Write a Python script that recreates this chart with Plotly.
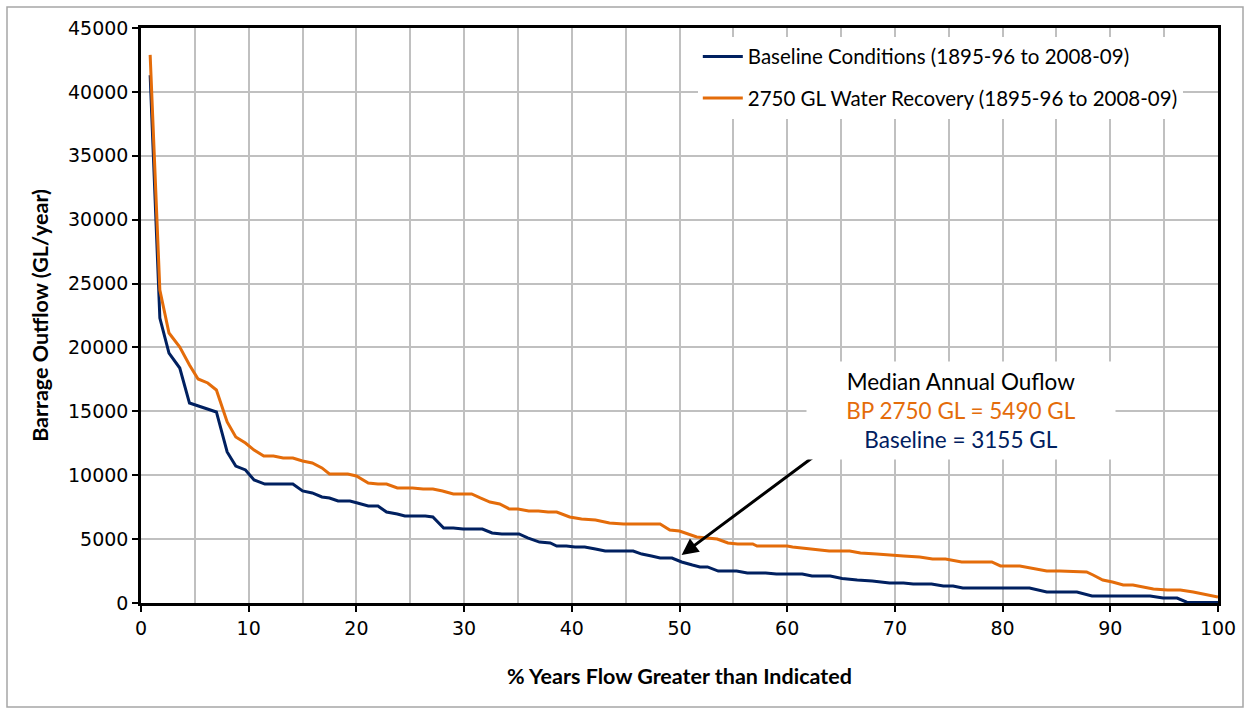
import plotly.graph_objects as go

# ---- data ----
base_x = [0.85, 1.75, 2.6, 3.6, 4.5, 7.0, 8.0, 8.8, 9.7, 10.5,
          11.5, 14.1, 15.0, 15.9, 16.8, 17.5, 18.3, 19.4, 20.1, 21.1,
          22.0, 22.8, 23.8, 24.5, 26.4, 27.1, 28.1, 29.0, 29.9, 31.7,
          32.6, 33.5, 35.1, 35.9, 37.0, 38.0, 38.6, 39.5, 40.3, 41.2,
          42.2, 43.1, 45.7, 46.5, 47.4, 48.2, 49.3, 50.2, 51.2, 51.9,
          52.6, 53.6, 55.3, 56.3, 58.0, 59.0, 61.4, 62.3, 64.0, 65.1,
          66.5, 67.9, 69.5, 70.8, 71.7, 73.4, 74.5, 75.4, 76.3, 82.5,
          84.1, 86.9, 88.3, 93.7, 94.9, 96.2, 97.1, 100]
base_y = [41300, 22300, 19560, 18390, 15650, 14950, 11820, 10720, 10410, 9630,
          9310, 9310, 8770, 8610, 8300, 8220, 7980, 7980, 7830, 7590,
          7590, 7120, 6970, 6810, 6810, 6730, 5870, 5870, 5790, 5790,
          5480, 5400, 5400, 5090, 4770, 4700, 4460, 4460, 4380, 4380,
          4230, 4070, 4070, 3830, 3680, 3520, 3520, 3210, 2970, 2820,
          2820, 2500, 2500, 2350, 2350, 2270, 2270, 2110, 2110, 1920,
          1800, 1720, 1570, 1570, 1490, 1490, 1330, 1330, 1170, 1170,
          860, 860, 550, 550, 390, 390, 60, 30]

rec_x = [0.85, 1.75, 2.6, 3.6, 4.5, 5.3, 6.2, 7.0, 8.0, 8.8,
         9.7, 10.5, 11.4, 12.3, 13.2, 14.1, 15.0, 15.9, 16.8, 17.5,
         19.2, 20.0, 21.1, 22.0, 22.8, 23.8, 25.2, 26.2, 27.1, 28.0,
         29.0, 30.7, 31.5, 32.4, 33.3, 34.2, 35.0, 36.0, 36.9, 37.8,
         38.6, 39.8, 40.9, 42.2, 43.5, 44.8, 48.2, 49.1, 50.0, 51.6,
         53.5, 54.5, 55.4, 56.8, 57.2, 60.0, 60.5, 62.3, 63.9, 65.8,
         66.8, 68.3, 70.2, 70.8, 72.3, 73.5, 74.7, 76.2, 79.0, 79.8,
         81.6, 82.5, 84.1, 85.3, 86.9, 87.8, 88.4, 89.3, 90.2, 91.2,
         92.1, 93.0, 94.0, 95.3, 96.5, 97.7, 98.6, 100]
rec_y = [42900, 24500, 21130, 20030, 18630, 17530, 17220, 16670, 14170, 12990,
         12520, 11970, 11500, 11500, 11350, 11350, 11110, 10960, 10570, 10100,
         10100, 9940, 9390, 9310, 9310, 9000, 9000, 8920, 8920, 8770,
         8530, 8530, 8220, 7900, 7750, 7360, 7360, 7200, 7200, 7120,
         7120, 6730, 6570, 6500, 6260, 6180, 6180, 5710, 5630, 5170,
         5010, 4700, 4620, 4620, 4460, 4460, 4380, 4230, 4070, 4070,
         3910, 3830, 3760, 3680, 3600, 3440, 3440, 3210, 3210, 2900,
         2900, 2740, 2500, 2500, 2430, 2430, 2190, 1800, 1640, 1410,
         1410, 1250, 1100, 1020, 1020, 860, 700, 470]

series_names = ["Baseline Conditions (1895-96 to 2008-09)",
                "2750 GL Water Recovery (1895-96 to 2008-09)"]
median_labels = ["Median Annual Ouflow", "BP 2750 GL = 5490 GL", "Baseline = 3155 GL"]
x_title = "% Years Flow Greater than Indicated"
y_title = "Barrage Outflow (GL/year)"

NAVY = "#002060"
ORANGE = "#E46C0A"
TXT = "Lato"
NUM = "DejaVu Sans"

fig = go.Figure()
fig.add_trace(go.Scatter(x=base_x, y=base_y, mode="lines", name=series_names[0],
                         line=dict(color=NAVY, width=3), legendgroup="a"))
fig.add_trace(go.Scatter(x=rec_x, y=rec_y, mode="lines", name=series_names[1],
                         line=dict(color=ORANGE, width=3), legendgroup="b"))

W, H = 1249, 709
L, R, T, B = 141, 31, 28, 106
pw, ph = W - L - R, H - T - B

def px2paper(px, py):
    return (px - L) / pw, (H - B - py) / ph

# outer border
x0, y0 = px2paper(7, 707)
x1, y1 = px2paper(1243, 7)
fig.add_shape(type="rect", xref="paper", yref="paper", x0=x0, y0=y0, x1=x1, y1=y1,
              line=dict(color="#a6a6a6", width=1.5), layer="below")

# arrow
fig.add_annotation(x=50.2, y=3760, ax=65.4, ay=13300, xref="x", yref="y",
                   axref="x", ayref="y", text="", showarrow=True,
                   arrowhead=2, arrowsize=1.1, arrowwidth=3, arrowcolor="black")

# median text box
text = (f"<span style='color:black'>{median_labels[0]}</span><br>"
        f"<span style='color:{ORANGE}'>{median_labels[1]}</span><br>"
        f"<span style='color:{NAVY}'>{median_labels[2]}</span>")
fig.add_annotation(x=76.1, y=15065, xref="x", yref="y", text=text, showarrow=False,
                   font=dict(family=TXT, size=22.5, color="black"), bgcolor="white",
                   width=306, height=95, align="center", xanchor="center", yanchor="middle")

fig.update_layout(
    width=W, height=H,
    margin=dict(l=L, r=R, t=T, b=B),
    paper_bgcolor="white", plot_bgcolor="white",
    showlegend=True,
    legend=dict(x=0.517, y=0.985, xanchor="left", yanchor="top",
                bgcolor="white", font=dict(family=TXT, size=20.5, color="black"),
                tracegroupgap=12, itemwidth=40),
    xaxis=dict(range=[0, 100], dtick=10, tick0=0, showgrid=True,
               gridcolor="#c0c0c0", gridwidth=1.5,
               minor=dict(dtick=5, showgrid=True, gridcolor="#c0c0c0", gridwidth=1.5),
               showline=True, linecolor="black", linewidth=2.5, mirror=True,
               ticks="outside", ticklen=6, tickwidth=2, tickcolor="black",
               tickfont=dict(family=NUM, size=19, color="black"),
               zeroline=False,
               title=dict(text=x_title, font=dict(family=TXT, size=21.5, color="black",
                                                   weight="bold"), standoff=32)),
    yaxis=dict(range=[0, 45000], dtick=5000, showgrid=True,
               gridcolor="#c0c0c0", gridwidth=1.5,
               showline=True, linecolor="black", linewidth=2.5, mirror=True,
               ticks="outside", ticklen=6, tickwidth=2, tickcolor="black",
               tickfont=dict(family=NUM, size=19, color="black"),
               zeroline=False, tickformat="d",
               title=dict(text=y_title, font=dict(family=TXT, size=21.5, color="black",
                                                   weight="bold"), standoff=14)),
)

fig.write_html("out.html")
